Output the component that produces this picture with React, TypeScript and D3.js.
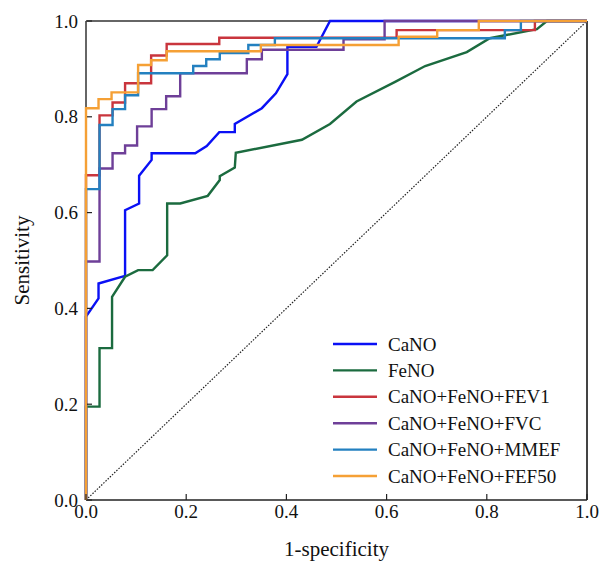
import { scaleLinear, line } from 'd3'

const width = 606
const height = 562

const margin = { top: 21, right: 19, bottom: 62, left: 86 }

const xTicks = [0, 0.2, 0.4, 0.6, 0.8, 1.0]
const yTicks = [0, 0.2, 0.4, 0.6, 0.8, 1.0]

// [1-specificity, sensitivity] points
const canoPoints: [number, number][] = [
  [0, 0], [0, 0.383], [0.025, 0.421], [0.025, 0.452], [0.078, 0.468], [0.078, 0.605],
  [0.106, 0.619], [0.106, 0.677], [0.131, 0.71], [0.131, 0.724], [0.218, 0.724],
  [0.241, 0.739], [0.266, 0.768], [0.297, 0.768], [0.297, 0.785], [0.351, 0.818],
  [0.379, 0.849], [0.402, 0.889], [0.402, 0.946], [0.46, 0.946], [0.487, 1], [1, 1]
]
const fenoPoints: [number, number][] = [
  [0, 0], [0, 0.195], [0.027, 0.195], [0.027, 0.317], [0.052, 0.317], [0.052, 0.424],
  [0.078, 0.466], [0.104, 0.48], [0.133, 0.48], [0.162, 0.511], [0.162, 0.619],
  [0.188, 0.619], [0.243, 0.635], [0.267, 0.668], [0.267, 0.676], [0.297, 0.694],
  [0.299, 0.725], [0.431, 0.752], [0.487, 0.785], [0.54, 0.832], [0.617, 0.873],
  [0.677, 0.906], [0.76, 0.935], [0.806, 0.964], [0.9, 0.983], [0.92, 1], [1, 1]
]
const fev1Points: [number, number][] = [
  [0, 0], [0, 0.678], [0.027, 0.678], [0.027, 0.803], [0.053, 0.803], [0.053, 0.83],
  [0.078, 0.83], [0.078, 0.87], [0.13, 0.87], [0.13, 0.928], [0.161, 0.928],
  [0.161, 0.952], [0.266, 0.952], [0.266, 0.965], [0.62, 0.965], [0.62, 0.981],
  [0.896, 0.981], [0.896, 1], [1, 1]
]
const fvcPoints: [number, number][] = [
  [0, 0], [0, 0.498], [0.027, 0.498], [0.027, 0.692], [0.053, 0.692], [0.053, 0.724],
  [0.078, 0.724], [0.078, 0.74], [0.102, 0.74], [0.102, 0.78], [0.131, 0.78],
  [0.131, 0.816], [0.16, 0.816], [0.16, 0.843], [0.188, 0.843], [0.188, 0.891],
  [0.321, 0.891], [0.321, 0.92], [0.351, 0.92], [0.351, 0.94], [0.514, 0.94],
  [0.514, 0.962], [0.596, 0.962], [0.596, 1], [1, 1]
]
const mmefPoints: [number, number][] = [
  [0, 0], [0, 0.649], [0.027, 0.649], [0.027, 0.783], [0.053, 0.783], [0.053, 0.816],
  [0.078, 0.816], [0.078, 0.845], [0.104, 0.845], [0.104, 0.891], [0.214, 0.891],
  [0.214, 0.906], [0.24, 0.906], [0.24, 0.92], [0.267, 0.92], [0.267, 0.933],
  [0.324, 0.933], [0.324, 0.95], [0.377, 0.95], [0.377, 0.964], [0.836, 0.964],
  [0.836, 0.981], [0.868, 0.981], [0.868, 1], [1, 1]
]
const fef50Points: [number, number][] = [
  [0, 0], [0, 0.818], [0.025, 0.818], [0.025, 0.837], [0.051, 0.837], [0.051, 0.851],
  [0.104, 0.851], [0.104, 0.908], [0.13, 0.908], [0.13, 0.918], [0.161, 0.918],
  [0.161, 0.937], [0.349, 0.937], [0.349, 0.95], [0.624, 0.95], [0.624, 0.967],
  [0.701, 0.967], [0.701, 0.981], [0.784, 0.981], [0.784, 1], [1, 1]
]

const seriesNames = ['CaNO', 'FeNO', 'CaNO+FeNO+FEV1', 'CaNO+FeNO+FVC', 'CaNO+FeNO+MMEF', 'CaNO+FeNO+FEF50']
const seriesColors = ['#0a10f5', '#1b6b3f', '#c9353d', '#6e3f98', '#2380c0', '#f5a035']
const seriesPoints = [canoPoints, fenoPoints, fev1Points, fvcPoints, mmefPoints, fef50Points]

const font = "'Times New Roman', 'Liberation Serif', serif"

function App() {
  const innerWidth = width - margin.left - margin.right
  const innerHeight = height - margin.top - margin.bottom

  const xScale = scaleLinear().domain([0, 1]).range([0, innerWidth])
  const yScale = scaleLinear().domain([0, 1]).range([innerHeight, 0])

  const lineGen = line<[number, number]>()
    .x(d => xScale(d[0]))
    .y(d => yScale(d[1]))

  const legendX = 333 - margin.left
  const legendY = 344 - margin.top
  const legendStep = 26.4

  return (
    <svg width={width} height={height} style={{ position: 'absolute', left: 0, top: 0 }}>
      <rect width={width} height={height} fill="white" />
      <g transform={`translate(${margin.left},${margin.top})`}>
        {/* frame, under the curves */}
        <line x1={0} x2={innerWidth} y1={0} y2={0} stroke="#333" strokeWidth={1.5} />
        <line x1={innerWidth} x2={innerWidth} y1={0} y2={innerHeight} stroke="#444" strokeWidth={2} />
        <line x1={0} x2={innerWidth} y1={innerHeight} y2={innerHeight} stroke="#222" strokeWidth={1.5} />
        <line x1={0} x2={0} y1={0} y2={innerHeight} stroke="#333" strokeWidth={1.5} />
        {/* chance line */}
        <path
          d={lineGen([[0, 0], [1, 1]]) || ''}
          stroke="#222"
          strokeWidth={1.2}
          strokeDasharray="1.5,1.5"
          fill="none"
        />
        {seriesPoints.map((pts, i) => (
          <path
            key={seriesNames[i]}
            d={lineGen(pts) || ''}
            stroke={seriesColors[i]}
            strokeWidth={2.4}
            fill="none"
            strokeLinejoin="miter"
          />
        ))}
        {xTicks.map(t => (
          <g key={'x' + t} transform={`translate(${xScale(t)},${innerHeight})`}>
            <line y2={-6} stroke="#222" strokeWidth={1.2} />
            <text y={18} textAnchor="middle" fontFamily={font} fontSize={19} fill="#111">
              {t.toFixed(1)}
            </text>
          </g>
        ))}
        {yTicks.map(t => (
          <g key={'y' + t} transform={`translate(0,${yScale(t)})`}>
            <line x1={1} x2={6} stroke="#222" strokeWidth={1.2} />
            <text x={-8} dy="0.35em" textAnchor="end" fontFamily={font} fontSize={19} fill="#111">
              {t.toFixed(1)}
            </text>
          </g>
        ))}
        <text
          x={innerWidth / 2}
          y={innerHeight + 56}
          textAnchor="middle"
          fontFamily={font}
          fontSize={21}
          fill="#111"
        >1-specificity</text>
        <text
          transform={`translate(${-57},${innerHeight / 2}) rotate(-90)`}
          textAnchor="middle"
          fontFamily={font}
          fontSize={21}
          fill="#111"
        >Sensitivity</text>
        {seriesNames.map((name, i) => (
          <g key={'leg' + name} transform={`translate(${legendX},${legendY + i * legendStep})`}>
            <line x2={44} stroke={seriesColors[i]} strokeWidth={2.4} />
            <text x={55} dy="0.35em" fontFamily={font} fontSize={19} fill="#111">{name}</text>
          </g>
        ))}
      </g>
    </svg>
  )
}

export default App
